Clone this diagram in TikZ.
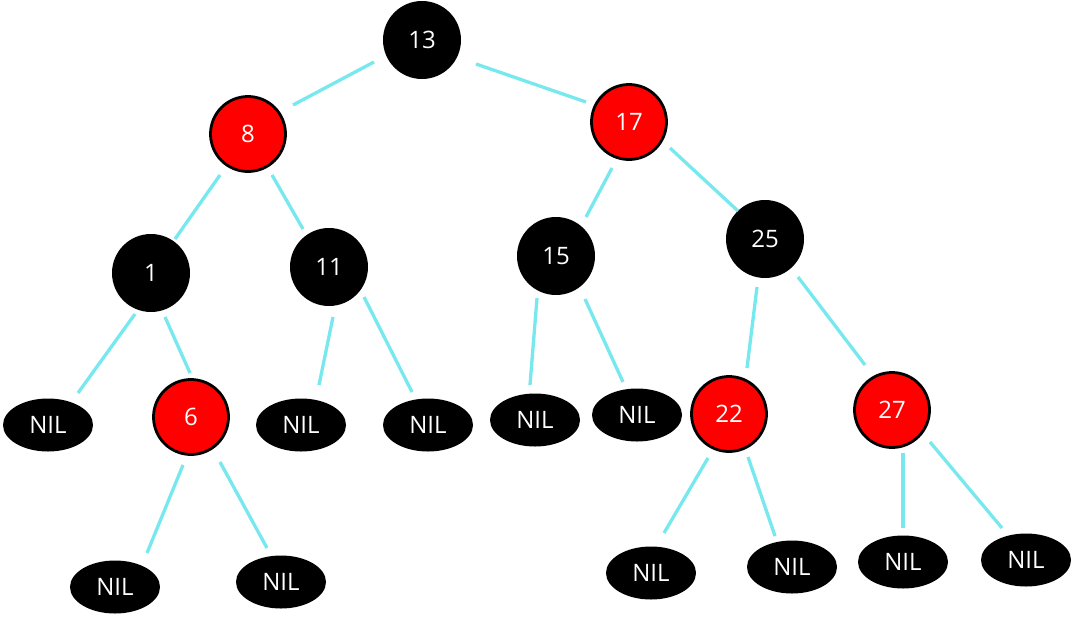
\documentclass[tikz,border=0pt]{standalone}
\usepackage{fontspec}
\setmainfont{Open Sans}
\usetikzlibrary{shapes.geometric,calc}
\definecolor{edgecol}{RGB}{118,232,238}
\tikzset{
  blknode/.style={circle, fill=black, minimum size=78pt, inner sep=0pt, text=white, font=\fontsize{24}{28}\selectfont},
  rednode/.style={circle, fill=red, draw=black, line width=2.8pt, minimum size=75pt, inner sep=0pt, text=white, font=\fontsize{24}{28}\selectfont},
  nilnode/.style={ellipse, fill=black, minimum width=90pt, minimum height=53pt, inner sep=0pt, text=white, font=\fontsize{24}{28}\selectfont},
  edgeline/.style={draw=edgecol, line width=3.3pt}
}
\newcommand{\tedge}[4]{\draw[edgeline] ($(#1)+(#2)$) -- ($(#3)+(#4)$);}
\begin{document}
\begin{tikzpicture}[x=1pt,y=-1pt]
\useasboundingbox (0,0) rectangle (1073,619);
\node[blknode] (n13) at (422,40) {13};
\node[rednode] (n8) at (248,134) {8};
\node[rednode] (n17) at (629,122) {17};
\node[blknode] (n1) at (151,273) {1};
\node[blknode] (n11) at (329,267) {11};
\node[blknode] (n15) at (556,256) {15};
\node[blknode] (n25) at (765,239) {25};
\node[rednode] (n6) at (191,417) {6};
\node[rednode] (n22) at (729,414) {22};
\node[rednode] (n27) at (892,410) {27};
\node[nilnode] (nilA) at (48,425) {NIL};
\node[nilnode] (nilB) at (115,587) {NIL};
\node[nilnode] (nilC) at (281,582) {NIL};
\node[nilnode] (nilD) at (301,425) {NIL};
\node[nilnode] (nilE) at (428,425) {NIL};
\node[nilnode] (nilF) at (535,420) {NIL};
\node[nilnode] (nilG) at (637,415) {NIL};
\node[nilnode] (nilH) at (651,573) {NIL};
\node[nilnode] (nilI) at (792,567) {NIL};
\node[nilnode] (nilJ) at (903,562) {NIL};
\node[nilnode] (nilK) at (1026,560) {NIL};
\tedge{n13}{-48,22}{n8}{45,-29}
\tedge{n13}{54,24}{n17}{-43,-20}
\tedge{n8}{-28,41}{n1}{24,-34}
\tedge{n8}{24,41}{n11}{-26,-38}
\tedge{n17}{-17,46}{n15}{30,-39}
\tedge{n17}{41,26}{n25}{-27,-28}
\tedge{n1}{-16,41}{nilA}{30,-32}
\tedge{n1}{14,44}{n6}{-1,-44}
\tedge{n11}{4,50}{nilD}{18,-40}
\tedge{n11}{35,30}{nilE}{-16,-33}
\tedge{n15}{-19,42}{nilF}{-5,-35}
\tedge{n15}{29,43}{nilG}{-14,-33}
\tedge{n25}{-8,48}{n22}{18,-46}
\tedge{n25}{33,38}{n27}{-27,-45}
\tedge{n6}{-8,48}{nilB}{32,-34}
\tedge{n6}{29,45}{nilC}{-14,-34}
\tedge{n22}{-21,44}{nilH}{13,-40}
\tedge{n22}{19,43}{nilI}{-17,-31}
\tedge{n27}{11,43}{nilJ}{0,-34}
\tedge{n27}{38,32}{nilK}{-24,-32}
\end{tikzpicture}
\end{document}
